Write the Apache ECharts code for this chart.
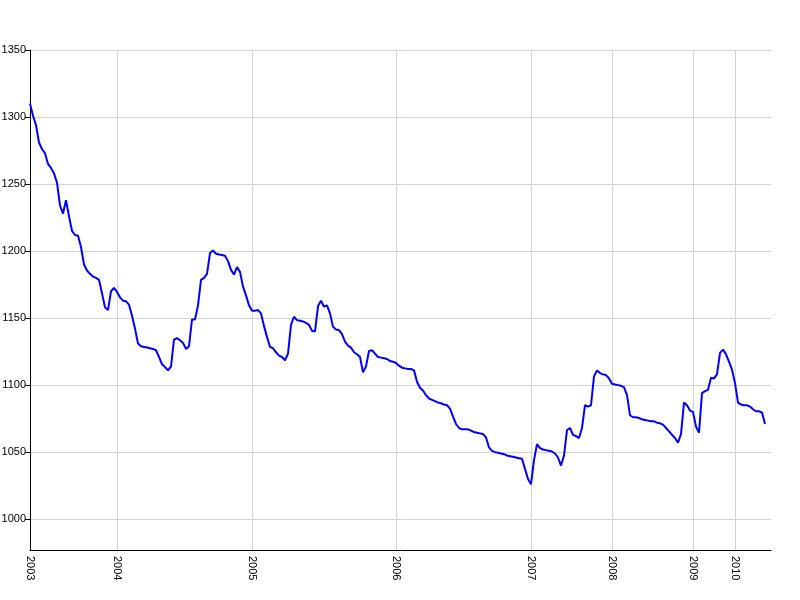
<!DOCTYPE html>
<html>
<head>
<meta charset="utf-8">
<script src="https://cdn.jsdelivr.net/npm/echarts@6/dist/echarts.min.js"></script>
<style>html,body{margin:0;padding:0;background:#fff}#chart{width:800px;height:600px}</style>
</head>
<body>
<div id="chart"></div>
<script>
// Year labels and the index of the first sample in each year
var yearLabels = ['2003','2004','2005','2006','2007','2008','2009','2010'];
var yearStarts = [0, 29, 74, 122, 167, 194, 221, 235];
// Total number of slots on the category axis (data plus trailing empty slots)
var slotCount = 248;
// Series values
var values = [
1310,1301,1294,1281,1276,1273,1265,1262,1258,1251,
1234,1228,1238,1226,1215,1212,1211.5,1203,1190,1185.5,
1183,1181,1180,1178.5,1168.5,1158,1156,1170,1172.5,1169.5,
1165.5,1163,1162.5,1160,1152,1142,1131,1129,1128.5,1128,
1127.5,1127,1126,1121,1115.5,1113.5,1111,1114,1134,1135,
1133.5,1131.5,1127,1129,1149,1149,1159.5,1178.5,1180,1183,
1198.5,1200.5,1198,1197.5,1197,1196.5,1192.5,1186,1182.5,1188,
1184.5,1173.5,1167,1159.5,1155.5,1155.5,1156,1153.5,1144,1136,
1128.5,1127.5,1124.5,1122,1121,1118.5,1123.5,1145,1151,1148.5,
1148,1147.5,1146.5,1145,1140.5,1140,1159,1163,1158.5,1159.5,
1153.5,1143.5,1141.5,1141,1138,1132.5,1129.5,1128,1124.5,1123,
1121,1109.5,1114,1125.5,1126,1123.5,1121,1120.5,1120,1119.5,
1118,1117.5,1116.5,1114.5,1113,1112.5,1112,1112,1111,1102.5,
1098,1096,1092.5,1090,1089,1088,1087,1086.5,1085.5,1085,
1082.5,1076.5,1071,1068,1067,1067,1067,1066,1065,1064.5,
1064,1063.5,1061,1053.5,1051,1050,1049.5,1049,1048.5,1047.5,
1047,1046.5,1046,1045.5,1045,1037.5,1030,1026,1044,1056,
1053,1052,1051.5,1051,1050.5,1049,1046,1040,1047.5,1066.5,
1068,1063,1062,1060.5,1068,1085,1084,1085,1106.5,1111,
1109,1108,1107.5,1105,1101,1100.5,1100,1099.5,1098.5,1092.5,
1077.5,1076,1076,1075.5,1074.5,1074,1073.5,1073,1073,1072,
1071.5,1070.5,1068,1065.5,1063,1060.5,1057,1063.5,1087,1085,
1081,1080,1069,1064.5,1094,1095.5,1096.5,1105.5,1105,1108,
1124,1126.5,1123,1117.5,1111.5,1101.5,1087,1085.5,1085,1085,
1084,1082,1080.5,1080.5,1079.5,1071
];

var categories = [];
for (var i = 0; i < slotCount; i++) {
  var k = yearStarts.indexOf(i);
  categories.push(k >= 0 ? yearLabels[k] : ' ' + i);
}
function isYearStart(idx) { return yearStarts.indexOf(idx) >= 0; }

var chart = echarts.init(document.getElementById('chart'), null, {renderer: 'canvas'});
chart.setOption({
  animation: false,
  backgroundColor: '#ffffff',
  grid: {left: 30, right: 29, top: 50, bottom: 50, containLabel: false, outerBoundsMode: 'none'},
  xAxis: {
    type: 'category',
    data: categories,
    boundaryGap: false,
    axisLine: {show: true, onZero: false, lineStyle: {color: '#000', width: 1}},
    axisTick: {show: false},
    axisLabel: {
      interval: function (idx) { return isYearStart(idx); },
      rotate: -90,
      margin: 6,
      color: '#000',
      fontSize: 11,
      fontFamily: 'Liberation Sans, Arial, sans-serif',
      formatter: function (v) { return v.trim().length === 4 ? v : ''; }
    },
    splitLine: {
      show: true,
      interval: function (idx) { return isYearStart(idx); },
      lineStyle: {color: '#d3d3d3', width: 1}
    }
  },
  yAxis: {
    type: 'value',
    min: 977,
    max: 1350,
    splitNumber: 7,
    axisLine: {show: true, lineStyle: {color: '#000', width: 1}},
    axisTick: {show: true, length: 5, lineStyle: {color: '#000'}},
    axisLabel: {
      showMinLabel: false,
      margin: 4,
      color: '#000',
      fontSize: 11,
      fontFamily: 'Liberation Sans, Arial, sans-serif',
      formatter: function (v) { return String(Math.round(v)); }
    },
    splitLine: {show: true, lineStyle: {color: '#d3d3d3', width: 1}}
  },
  series: [{
    type: 'line',
    data: values,
    showSymbol: false,
    symbol: 'none',
    smooth: false,
    lineStyle: {color: '#0000ff', width: 2},
    itemStyle: {color: '#0000ff'}
  }]
});
</script>
</body>
</html>
